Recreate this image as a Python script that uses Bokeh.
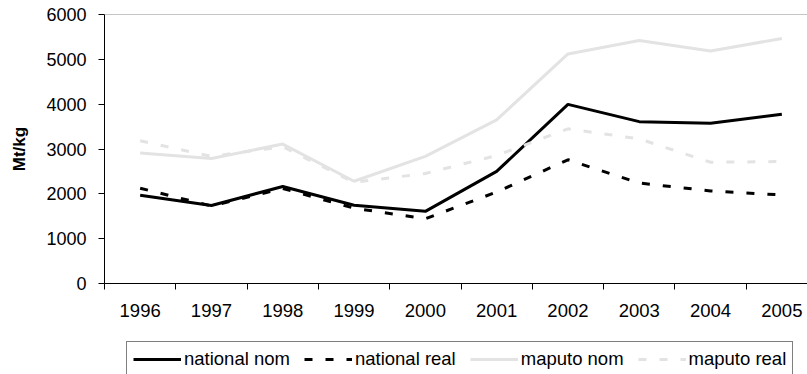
from bokeh.plotting import figure
from bokeh.layouts import column
from bokeh.models import (Range1d, FixedTicker, Legend, LegendItem, Span)
from bokeh.embed import file_html
from bokeh.resources import INLINE

# Price series, Mt/kg
years = [1996, 1997, 1998, 1999, 2000, 2001, 2002, 2003, 2004, 2005]
national_nom = [1970, 1740, 2165, 1745, 1610, 2500, 3995, 3610, 3575, 3775]
national_real = [2125, 1730, 2120, 1680, 1445, 2040, 2760, 2240, 2065, 1975]
maputo_nom = [2910, 2790, 3110, 2280, 2835, 3650, 5120, 5420, 5185, 5465]
maputo_real = [3185, 2835, 3050, 2255, 2455, 2855, 3450, 3225, 2705, 2720]

series_names = ["national nom", "national real", "maputo nom", "maputo real"]
y_ticks = [0, 1000, 2000, 3000, 4000, 5000, 6000]
year_labels = {y: str(y) for y in years}

FONT = "Liberation Sans"
W = 807
CHART_H, LEGEND_H = 340, 34
LEFT, TOP = 104, 14
BOTTOM = CHART_H - 283
YEAR_PX = 71.3  # width of one category slot

LIGHT = "#e3e3e3"
styles = [
    dict(line_color="black", line_width=3),
    dict(line_color="black", line_width=3, line_dash="8 13"),
    dict(line_color=LIGHT, line_width=3),
    dict(line_color=LIGHT, line_width=3, line_dash="8 13"),
]

x_end = 1995.5 + (W - LEFT) / YEAR_PX

p = figure(width=W, height=CHART_H, output_backend="svg", toolbar_location=None,
           x_range=Range1d(1995.5, x_end), y_range=Range1d(0, 6000),
           min_border_left=LEFT, min_border_top=TOP, min_border_bottom=BOTTOM,
           min_border_right=0)
p.outline_line_color = None
p.xgrid.grid_line_color = None
p.ygrid.grid_line_color = None

# plot-area top edge
p.add_layout(Span(location=6000, dimension="width", line_color="#8c8c8c", line_width=1))

# x axis: labels centred in each slot, ticks between slots
xa = p.xaxis[0]
xa.ticker = FixedTicker(ticks=years, minor_ticks=[y - 0.5 for y in years])
xa.major_label_overrides = year_labels
xa.major_tick_line_color = None
xa.minor_tick_in = 0
xa.minor_tick_out = 6
xa.minor_tick_line_color = "black"
xa.axis_line_color = "black"
xa.major_label_text_font = FONT
xa.major_label_text_font_size = "18.5px"
xa.major_label_text_color = "black"
xa.major_label_standoff = 14

ya = p.yaxis[0]
ya.ticker = FixedTicker(ticks=y_ticks)
ya.minor_tick_line_color = None
ya.major_tick_in = 0
ya.major_tick_out = 6
ya.axis_line_color = "black"
ya.major_tick_line_color = "black"
ya.major_label_text_font = FONT
ya.major_label_text_font_size = "18px"
ya.major_label_text_color = "black"
ya.major_label_standoff = 12
ya.axis_label = "Mt/kg"
ya.axis_label_text_font = FONT
ya.axis_label_text_font_size = "17px"
ya.axis_label_text_font_style = "bold"
ya.axis_label_text_color = "black"
ya.axis_label_standoff = 14

for vals, st in zip([national_nom, national_real, maputo_nom, maputo_real], styles):
    p.line(years, vals, **st)

# legend strip under the chart; its key lines sit outside the strip's visible range
lg = figure(width=W, height=LEGEND_H, output_backend="svg", toolbar_location=None,
            x_range=Range1d(0, 1), y_range=Range1d(0, 1),
            min_border=0)
lg.axis.visible = False
lg.grid.visible = False
lg.outline_line_color = None
keys = [lg.line([-5, -4], [-5, -5], **st) for st in styles]

legend = Legend(items=[LegendItem(label=n, renderers=[r]) for n, r in zip(series_names, keys)],
                orientation="horizontal", location=(22, -3),
                glyph_width=48, glyph_height=20, label_standoff=3, spacing=14, padding=6,
                label_text_font=FONT, label_text_font_size="18.5px", label_text_color="black",
                border_line_color="black", border_line_width=1, margin=0)
lg.add_layout(legend, "center")

layout = column(p, lg, spacing=0)
open("out.html", "w").write(file_html(layout, INLINE))
